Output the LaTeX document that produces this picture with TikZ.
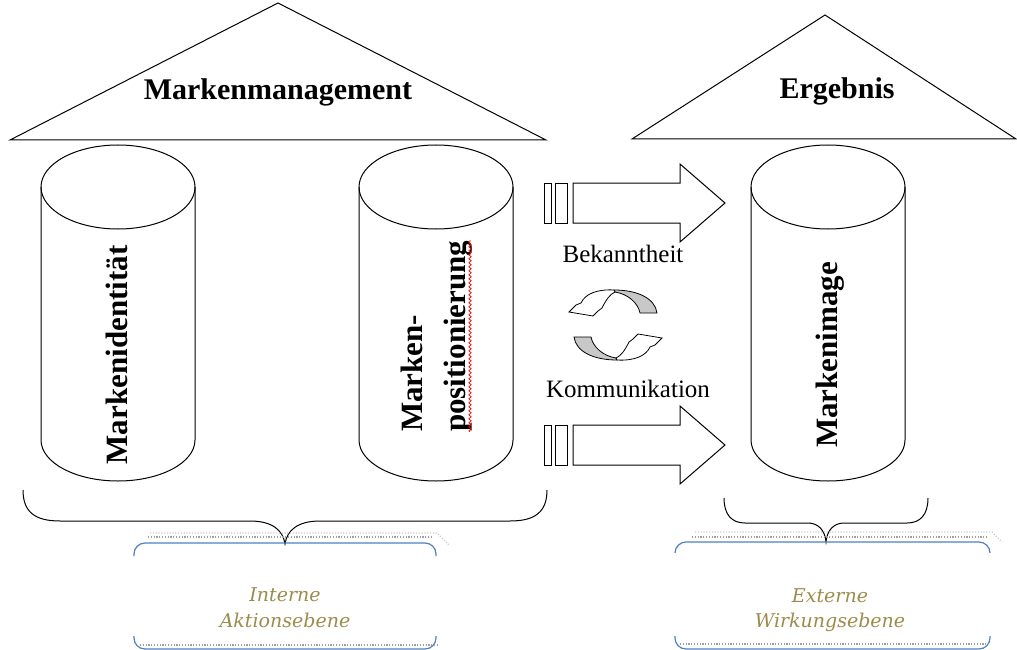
\documentclass[tikz,border=0pt]{standalone}
\usepackage{fontspec}
\setmainfont{Liberation Serif}
\newfontfamily\ebenefont{DejaVu Serif}
\usetikzlibrary{decorations.pathmorphing}

\definecolor{rahmenblau}{RGB}{79,129,189}
\definecolor{ebenetext}{RGB}{155,140,75}
\definecolor{pfeilgrau}{RGB}{200,200,200}

\tikzset{
  linie/.style={black, line width=1pt},
  titel/.style={font=\bfseries\fontsize{30}{36}\selectfont, inner sep=0pt},
  saeule/.style={font=\bfseries\fontsize{31}{36}\selectfont, inner sep=0pt, rotate=90},
  pfeiltext/.style={font=\fontsize{25}{30}\selectfont, inner sep=0pt},
  ebene/.style={font=\ebenefont\itshape\fontsize{19}{26}\selectfont, text=ebenetext, inner sep=0pt},
  rahmen/.style={rahmenblau, line width=1.2pt, rounded corners=11pt},
  punktlinie/.style={gray!75, line width=1.2pt, dash pattern=on 1.2pt off 1.6pt},
}

\begin{document}
\begin{tikzpicture}[x=1pt, y=-1pt]
\useasboundingbox (0,0) rectangle (1017,650);

% Daecher
\draw[linie] (10,140) -- (278,3) -- (546,140) -- cycle;
\draw[linie] (632,139) -- (825,15) -- (1016,139) -- cycle;
\node[titel, anchor=base] (management) at (278,100) {Markenmanagement};
\node[titel, anchor=base] (ergebnis) at (837,99) {Ergebnis};

% Saeulen
\foreach \cx in {118,436,828}{
  \draw[linie, fill=white] (\cx-77,187) -- (\cx-77,440) arc[start angle=180, end angle=0, x radius=77, y radius=41] -- (\cx+77,187);
  \draw[linie] (\cx,187) ellipse [x radius=77, y radius=42];
}
\node[saeule, anchor=base] (identitaet) at (127,355) {Markenidentität};
\node[saeule, anchor=base west] (position1) at (422,432) {Marken-};
\node[saeule, anchor=base west] (position2) at (465,432) {positionierung};
\node[saeule, anchor=base] (image) at (837,355) {Markenimage};
\draw[red, line width=0.7pt, decorate, decoration={snake, amplitude=1.2pt, segment length=4pt}] (470,432) -- (470,240);

% Blockpfeile
\foreach \dy in {0,242}{
  \begin{scope}[shift={(0,\dy)}]
    \draw[linie] (544,183) rectangle (551,223);
    \draw[linie] (555,183) rectangle (567,223);
    \draw[linie] (573,183) -- (680,183) -- (680,164) -- (725,203) -- (680,242) -- (680,223) -- (573,223) -- cycle;
  \end{scope}
}
\node[pfeiltext, anchor=base] (bekannt) at (623,262) {Bekanntheit};
\node[pfeiltext, anchor=base] (kommu) at (628,397) {Kommunikation};

% Kreislauf
\foreach \px/\py/\dreh in {613/318/0, 618/332/180}{
  \begin{scope}[shift={(\px,\py)}, rotate=\dreh, line width=0.8pt]
    \filldraw[fill=pfeilgrau] (1,-28) .. controls (24,-28) and (42,-20) .. (44,-5) -- (27,-5) .. controls (25,-15) and (15,-24) .. (2,-26) -- cycle;
    \filldraw[fill=white] (1,-28) .. controls (-16,-29) and (-28,-24) .. (-32,-15) -- (-37,-13) -- (-44,-6) -- (-20,-2) -- (-15,-7) -- (-11,-10) .. controls (-7,-18) and (-3,-24) .. (2,-26) -- cycle;
  \end{scope}
}

% Klammern
\draw[linie] (23,490) .. controls (23,512) and (35,521) .. (60,521) -- (250,521) .. controls (272,521) and (283,530) .. (285,544) .. controls (287,530) and (298,521) .. (320,521) -- (510,521) .. controls (535,521) and (547,512) .. (547,490);
\draw[linie] (724,498) .. controls (724,515) and (732,523) .. (745,523) -- (808,523) .. controls (818,523) and (825,530) .. (826,542) .. controls (827,530) and (834,523) .. (844,523) -- (907,523) .. controls (920,523) and (928,515) .. (928,498);

% Ebenen
\draw[punktlinie, gray!40] (150,533) -- (437,533) -- (449,545);
\draw[punktlinie] (148,537) -- (432,537);
\draw[rahmen] (134,556) -- (134,543) -- (436,543) -- (436,556);
\draw[rahmen] (134,636) -- (134,649) -- (436,649) -- (436,636);
\draw[punktlinie] (140,645) -- (438,645);
\node[ebene, anchor=base] (intern1) at (285,601) {Interne};
\node[ebene, anchor=base] (intern2) at (285,627) {Aktionsebene};

\draw[punktlinie, gray!40] (695,532) -- (992,532) -- (1002,542);
\draw[punktlinie] (692,537) -- (988,537);
\draw[rahmen] (675,553) -- (675,542) -- (990,542) -- (990,553);
\draw[rahmen] (675,636) -- (675,649) -- (990,649) -- (990,636);
\draw[punktlinie] (680,644) -- (988,644);
\node[ebene, anchor=base] (extern1) at (830,602) {Externe};
\node[ebene, anchor=base] (extern2) at (830,627) {Wirkungsebene};

\end{tikzpicture}
\end{document}
